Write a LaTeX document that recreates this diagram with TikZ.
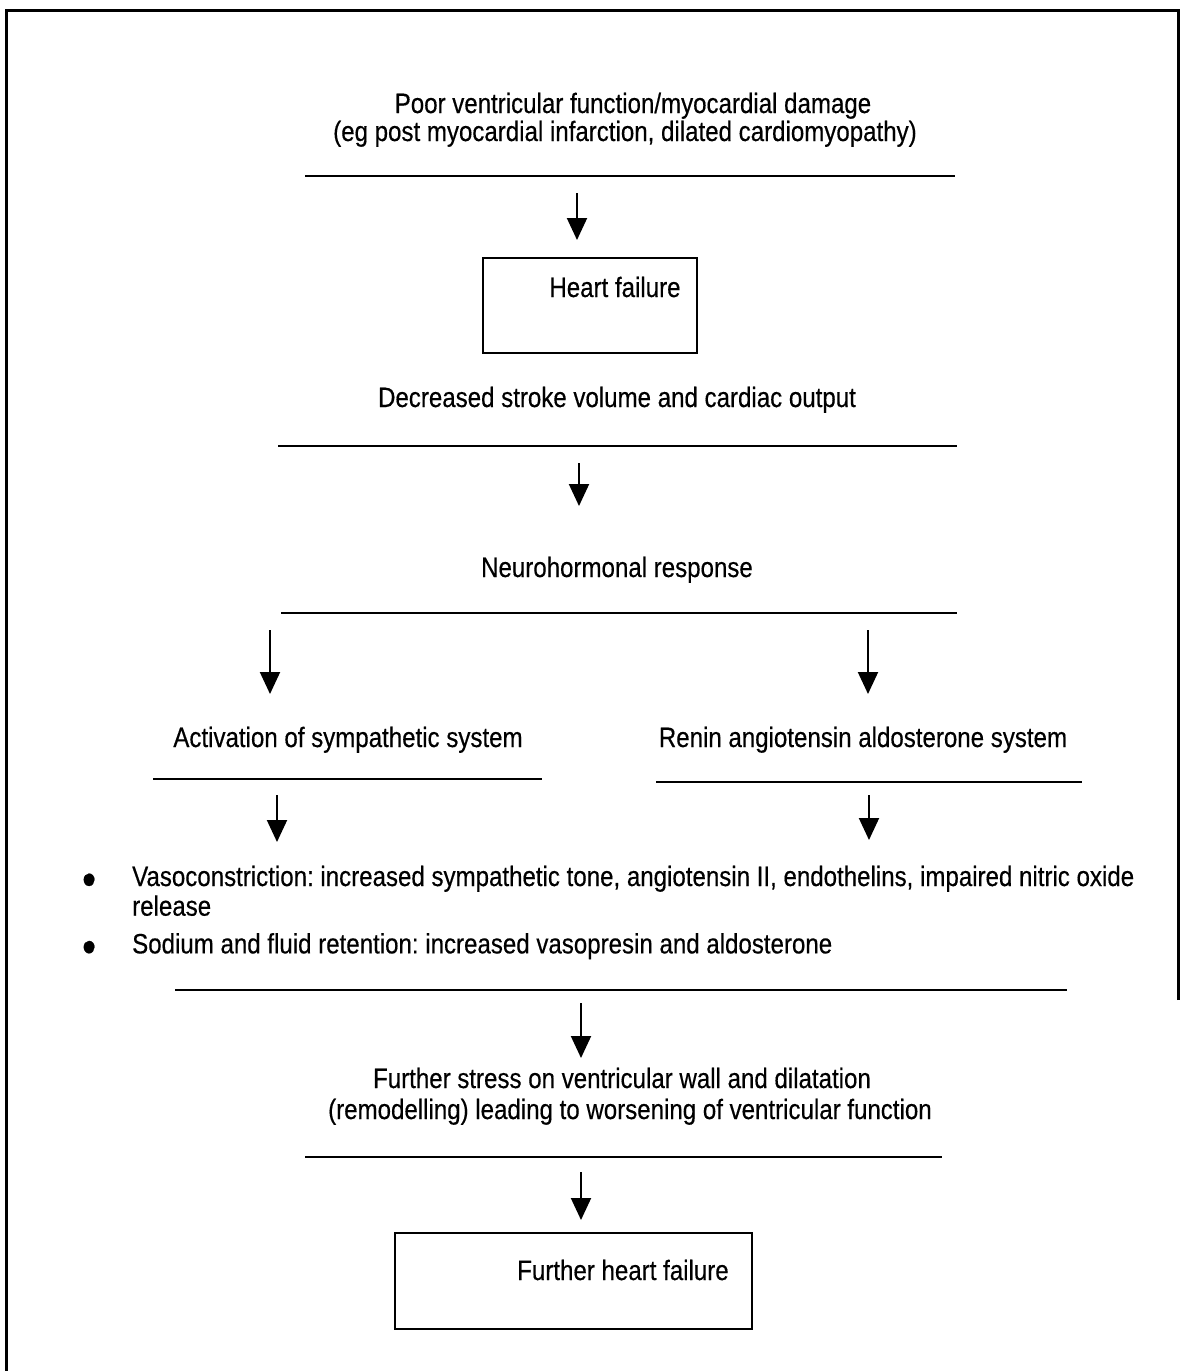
\documentclass[tikz,border=0pt]{standalone}
\usepackage{fontspec}
\setmainfont{Liberation Sans}[FakeStretch=0.86,FakeBold=0.4]
\usepackage{tikz}
\usetikzlibrary{arrows.meta}
\frenchspacing
\newcommand{\bigdot}{\raisebox{-9pt}{\fontsize{46}{46}\selectfont\textbullet}}
\tikzset{
  txt/.style={font=\fontsize{28}{28}\selectfont, inner sep=0pt, anchor=base},
  rule/.style={line width=1.8pt},
  flow/.style={line width=2pt, -{Triangle[length=22pt,width=20pt]}},
  box/.style={draw, line width=2pt, inner sep=0pt}
}

\begin{document}
\begin{tikzpicture}[x=1pt,y=-1pt]
    \useasboundingbox (0,0) rectangle (1180,1371);
    % outer frame, open at the bottom right
    \draw[line width=3pt] (1178,1000) -- (1178,10) -- (6,10) -- (6,1371);
    % cause
    \node[txt] (cause1) at (633,113) {Poor ventricular function/myocardial damage};
    \node[txt] (cause2) at (625,141) {(eg post myocardial infarction, dilated cardiomyopathy)};
    \draw[rule] (305,176) -- (955,176);
    \coordinate (a1s) at (577,193);
    \coordinate (a1e) at (577,240);
    \draw[flow] (a1s) -- (a1e);
    % first box
    \node[box, minimum width=214pt, minimum height=95pt] (hf) at (590,305.5) {};
    \node[txt] (hflab) at (615,297) {Heart failure};
    \node[txt] (output) at (617,407) {Decreased stroke volume and cardiac output};
    \draw[rule] (278,446) -- (957,446);
    \coordinate (a2s) at (579,463);
    \coordinate (a2e) at (579,506);
    \draw[flow] (a2s) -- (a2e);
    \node[txt] (neuro) at (617,577) {Neurohormonal response};
    \draw[rule] (281,613) -- (957,613);
    % two branches
    \coordinate (a3s) at (270,630);
    \coordinate (a3e) at (270,694);
    \coordinate (a4s) at (868,630);
    \coordinate (a4e) at (868,694);
    \draw[flow] (a3s) -- (a3e);
    \draw[flow] (a4s) -- (a4e);
    \node[txt] (symp) at (348,747) {Activation of sympathetic system};
    \node[txt] (raas) at (863,747) {Renin angiotensin aldosterone system};
    \draw[rule] (153,779) -- (542,779);
    \draw[rule] (656,782) -- (1082,782);
    \coordinate (a5s) at (277,795);
    \coordinate (a5e) at (277,842);
    \coordinate (a6s) at (869,795);
    \coordinate (a6e) at (869,840);
    \draw[flow] (a5s) -- (a5e);
    \draw[flow] (a6s) -- (a6e);
    % effects
    \node[txt, anchor=base west] (effects) at (82,886) {%
      \begin{tabular}[t]{@{}p{50pt}@{}l@{}}
        \bigdot & Vasoconstriction: increased sympathetic tone, angiotensin II, endothelins, impaired nitric oxide\\[1pt]
        & release\\[9pt]
        \bigdot & Sodium and fluid retention: increased vasopresin and aldosterone
      \end{tabular}};
    \draw[rule] (175,990) -- (1067,990);
    \coordinate (a7s) at (581,1003);
    \coordinate (a7e) at (581,1058);
    \draw[flow] (a7s) -- (a7e);
    \node[txt] (stress1) at (622,1088) {Further stress on ventricular wall and dilatation};
    \node[txt] (stress2) at (630,1119) {(remodelling) leading to worsening of ventricular function};
    \draw[rule] (305,1157) -- (942,1157);
    \coordinate (a8s) at (581,1172);
    \coordinate (a8e) at (581,1220);
    \draw[flow] (a8s) -- (a8e);
    % last box
    \node[box, minimum width=357pt, minimum height=96pt] (fhf) at (573.5,1281) {};
    \node[txt] (fhflab) at (623,1280) {Further heart failure};
\end{tikzpicture}
\end{document}
